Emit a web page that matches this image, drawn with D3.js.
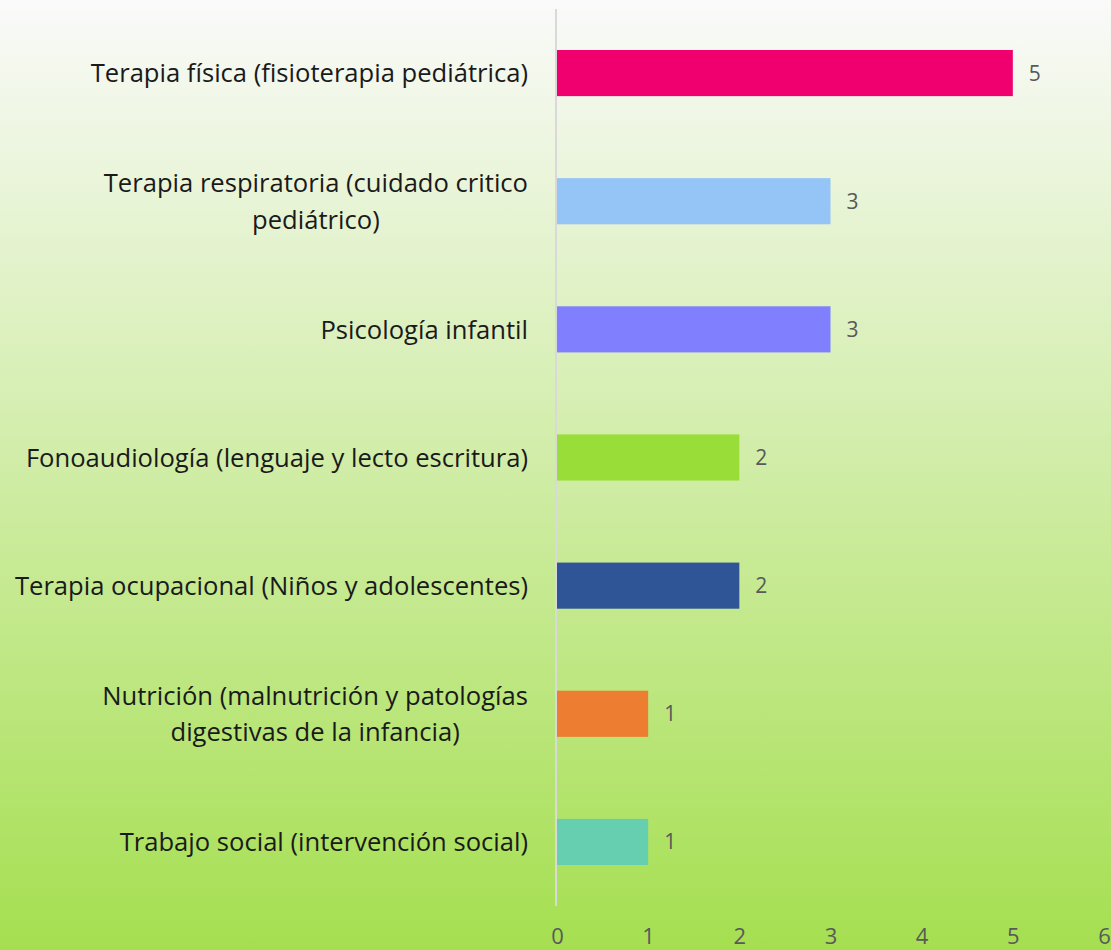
<!DOCTYPE html>
<html>
<head>
<meta charset="utf-8">
<script src="https://cdn.jsdelivr.net/npm/d3@7"></script>
<style>
  html, body { margin: 0; padding: 0; }
  body { width: 1111px; height: 950px; overflow: hidden; }
</style>
</head>
<body>
<div id="chart"></div>
<script>
// data
var categories = [
  'Terapia física (fisioterapia pediátrica)',
  'Terapia respiratoria (cuidado critico|pediátrico)',
  'Psicología infantil',
  'Fonoaudiología (lenguaje y lecto escritura)',
  'Terapia ocupacional (Niños y adolescentes)',
  'Nutrición (malnutrición y patologías|digestivas de la infancia)',
  'Trabajo social (intervención social)'
];
var values = [5, 3, 3, 2, 2, 1, 1];
var colors = ['#f0006e', '#95c4f6', '#8080ff', '#99dd38', '#2f5597', '#ed7d31', '#66cfb0'];
var ticks = [0, 1, 2, 3, 4, 5, 6];

var svgWidth = 1111;
var svgHeight = 950;
var font = '"Open Sans", sans-serif';
var labelRight = 528;

var svg = d3.select('#chart').append('svg')
  .attr('width', svgWidth)
  .attr('height', svgHeight)
  .style('font-family', font);

// background gradient
var grad = svg.append('defs').append('linearGradient')
  .attr('id', 'bg').attr('x1', 0).attr('y1', 0).attr('x2', 0).attr('y2', 1);
grad.append('stop').attr('offset', '0%').attr('stop-color', '#fafafa');
grad.append('stop').attr('offset', '100%').attr('stop-color', '#a5df50');
svg.append('rect').attr('width', svgWidth).attr('height', svgHeight).attr('fill', 'url(#bg)');

var x = d3.scaleLinear().domain([0, 6]).range([557, 1104]);
var y = d3.scaleBand()
  .domain(categories)
  .range([9, 906])
  .paddingInner(0.64)
  .paddingOuter(0.32);

// bars
svg.selectAll('rect.bar')
  .data(values)
  .enter()
  .append('rect')
  .attr('class', 'bar')
  .attr('x', x(0))
  .attr('y', (d, i) => y(categories[i]))
  .attr('width', d => x(d) - x(0))
  .attr('height', y.bandwidth())
  .attr('fill', (d, i) => colors[i]);

// vertical axis line
svg.append('line')
  .attr('x1', x(0) - 1).attr('x2', x(0) - 1)
  .attr('y1', 9).attr('y2', 906)
  .attr('stroke', '#d9d9d9')
  .attr('stroke-width', 2);

// value labels
svg.selectAll('text.val')
  .data(values)
  .enter()
  .append('text')
  .attr('class', 'val')
  .attr('x', d => x(d) + 16)
  .attr('y', (d, i) => y(categories[i]) + y.bandwidth() / 2)
  .attr('dy', '0.36em')
  .attr('font-size', '21px')
  .attr('fill', '#595959')
  .text(d => d);

// category labels (multi-line ones are centred as a block)
var labels = svg.selectAll('text.cat')
  .data(categories)
  .enter()
  .append('text')
  .attr('class', 'cat')
  .attr('font-size', '25.6px')
  .attr('fill', '#1a1a1a')
  .attr('y', d => y(d) + y.bandwidth() / 2);

labels.each(function(d) {
  var lines = d.split('|');
  var t = d3.select(this);
  var spans = lines.map(function(line, i) {
    return t.append('tspan')
      .attr('dy', i === 0 ? (0.36 - (lines.length - 1) * 0.72) + 'em' : '1.44em')
      .text(line);
  });
  if (lines.length === 1) {
    t.attr('text-anchor', 'end');
    spans[0].attr('x', labelRight);
  } else {
    var maxW = d3.max(spans, s => s.node().getComputedTextLength());
    t.attr('text-anchor', 'middle');
    spans.forEach(s => s.attr('x', labelRight - maxW / 2));
  }
});

// bottom ticks
var bottomAxis = d3.axisBottom(x).tickValues(ticks).tickFormat(d3.format('d')).tickSize(0).tickPadding(0);
var axisG = svg.append('g')
  .attr('transform', 'translate(0, 928)')
  .call(bottomAxis);
axisG.select('.domain').remove();
axisG.selectAll('text')
  .attr('font-family', font)
  .attr('font-size', '22px')
  .attr('fill', '#595959')
  .attr('dy', '0.72em');
</script>
</body>
</html>
